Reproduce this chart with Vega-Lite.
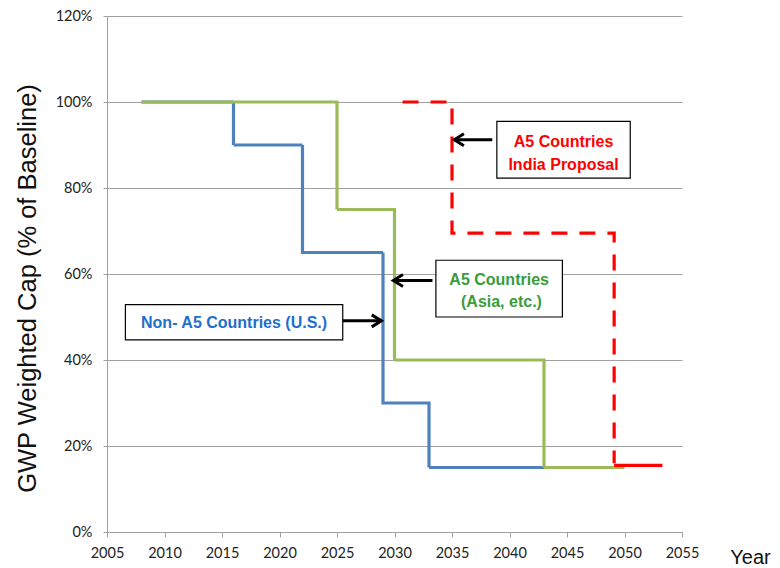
{
  "$schema": "https://vega.github.io/schema/vega-lite/v6.json",
  "width": 575,
  "height": 516,
  "autosize": "none",
  "padding": {"left": 107, "top": 16, "right": 98, "bottom": 36},
  "background": "white",
  "config": {"view": {"stroke": null}},
  "datasets": {
    "steps": [
      {"series": "Non-A5", "year": 2008, "pct": 100},
      {"series": "Non-A5", "year": 2016, "pct": 90},
      {"series": "Non-A5", "year": 2022, "pct": 65},
      {"series": "Non-A5", "year": 2029, "pct": 30},
      {"series": "Non-A5", "year": 2033, "pct": 15},
      {"series": "Non-A5", "year": 2043, "pct": 15},
      {"series": "A5", "year": 2008, "pct": 100},
      {"series": "A5", "year": 2025, "pct": 75},
      {"series": "A5", "year": 2030, "pct": 40},
      {"series": "A5", "year": 2043, "pct": 15},
      {"series": "A5", "year": 2050, "pct": 15},
      {"series": "India", "year": 2030.7, "pct": 100},
      {"series": "India", "year": 2035, "pct": 69.5},
      {"series": "India", "year": 2049.1, "pct": 16},
      {"series": "India tail", "year": 2049.1, "pct": 15.5},
      {"series": "India tail", "year": 2053.3, "pct": 15.5}
    ],
    "boxes": [
      {"series": "India", "x1": 2038.9, "x2": 2050.5, "y1": 95.5, "y2": 82.3},
      {"series": "A5", "x1": 2033.6, "x2": 2044.6, "y1": 63.2, "y2": 50.0},
      {"series": "Non-A5", "x1": 2006.6, "x2": 2025.5, "y1": 52.9, "y2": 44.7}
    ],
    "arrows": [
      {"series": "India", "tail": 2038.5, "tip": 2035.2, "pct": 91.2, "dir": "left"},
      {"series": "A5", "tail": 2033.3, "tip": 2029.9, "pct": 58.5, "dir": "left"},
      {"series": "Non-A5", "tail": 2025.5, "tip": 2028.86, "pct": 49.1, "dir": "right"}
    ],
    "labels": [
      {"series": "India", "year": 2044.7, "pct": 90.6, "text": "A5 Countries"},
      {"series": "India", "year": 2044.7, "pct": 85.4, "text": "India Proposal"},
      {"series": "A5", "year": 2039.1, "pct": 58.5, "text": "A5 Countries"},
      {"series": "A5", "year": 2039.3, "pct": 53.4, "text": "(Asia, etc.)"},
      {"series": "Non-A5", "year": 2016.05, "pct": 48.6, "text": "Non- A5 Countries (U.S.)"}
    ]
  },
  "layer": [
    {
      "data": {"name": "steps"},
      "mark": {"type": "line", "interpolate": "step-after", "strokeCap": "butt", "strokeJoin": "miter"},
      "encoding": {
        "x": {
          "field": "year", "type": "quantitative",
          "scale": {"domain": [2005, 2055], "nice": false, "zero": false},
          "axis": {
            "values": [2005, 2010, 2015, 2020, 2025, 2030, 2035, 2040, 2045, 2050, 2055],
            "format": "d", "grid": false, "labelFlush": false,
            "domainColor": "#A0A0A0", "tickColor": "#A0A0A0", "tickSize": 5,
            "labelFont": "Lato", "labelFontSize": 14.5, "labelColor": "#222222", "labelPadding": 9,
            "title": "Year", "titleFont": "Liberation Sans", "titleFontSize": 20, "titleFontWeight": "normal",
            "titleColor": "#111111", "titleX": 643, "titleY": 31, "titleAlign": "center", "titleBaseline": "alphabetic"
          }
        },
        "y": {
          "field": "pct", "type": "quantitative",
          "scale": {"domain": [0, 120], "nice": false},
          "axis": {
            "values": [0, 20, 40, 60, 80, 100, 120],
            "labelExpr": "datum.value + '%'",
            "grid": true, "gridColor": "#A0A0A0", "gridWidth": 1,
            "domainColor": "#A0A0A0", "tickColor": "#A0A0A0", "tickSize": 4,
            "labelFont": "Lato", "labelFontSize": 14.5, "labelColor": "#222222", "labelPadding": 11,
            "title": "GWP Weighted Cap (% of Baseline)", "titleFont": "Liberation Sans", "titleFontSize": 25.5,
            "titleFontWeight": "normal", "titleColor": "#111111",
            "titleAngle": -90, "titleX": -72, "titleY": 272, "titleAlign": "center", "titleBaseline": "alphabetic"
          }
        },
        "stroke": {
          "field": "series", "type": "nominal",
          "scale": {"domain": ["Non-A5", "A5", "India", "India tail"], "range": ["#4F81BD", "#9BBB59", "#FF0000", "#FF0000"]},
          "legend": null
        },
        "strokeDash": {
          "field": "series", "type": "nominal",
          "scale": {"domain": ["Non-A5", "A5", "India", "India tail"], "range": [[1, 0], [1, 0], [16, 12], [1, 0]]},
          "legend": null
        },
        "strokeWidth": {
          "field": "series", "type": "nominal",
          "scale": {"domain": ["Non-A5", "A5", "India", "India tail"], "range": [3.2, 3.2, 4, 4]},
          "legend": null
        }
      }
    },
    {
      "data": {"name": "boxes"},
      "mark": {"type": "rect", "fill": "white", "stroke": "black", "strokeWidth": 1.2},
      "encoding": {
        "x": {"field": "x1", "type": "quantitative"},
        "x2": {"field": "x2"},
        "y": {"field": "y1", "type": "quantitative"},
        "y2": {"field": "y2"}
      }
    },
    {
      "data": {"name": "arrows"},
      "mark": {"type": "rule", "color": "black", "strokeWidth": 3},
      "encoding": {
        "x": {"field": "tail", "type": "quantitative"},
        "x2": {"field": "tip"},
        "y": {"field": "pct", "type": "quantitative"}
      }
    },
    {
      "data": {"name": "arrows"},
      "mark": {"type": "point", "filled": false, "stroke": "black", "strokeWidth": 3, "size": 144, "opacity": 1, "strokeJoin": "miter"},
      "encoding": {
        "x": {"field": "tip", "type": "quantitative"},
        "y": {"field": "pct", "type": "quantitative"},
        "shape": {
          "field": "dir", "type": "nominal",
          "scale": {"domain": ["left", "right"], "range": ["M1.6,-1L0,0L1.6,1", "M-1.6,-1L0,0L-1.6,1"]},
          "legend": null
        }
      }
    },
    {
      "data": {"name": "labels"},
      "mark": {"type": "text", "font": "Liberation Sans", "fontSize": 16, "fontWeight": "bold", "align": "center", "baseline": "middle"},
      "encoding": {
        "x": {"field": "year", "type": "quantitative"},
        "y": {"field": "pct", "type": "quantitative"},
        "text": {"field": "text"},
        "fill": {
          "field": "series", "type": "nominal",
          "scale": {"domain": ["Non-A5", "A5", "India"], "range": ["#1F6FCC", "#3A9C3A", "#FF0000"]},
          "legend": null
        }
      }
    }
  ]
}
